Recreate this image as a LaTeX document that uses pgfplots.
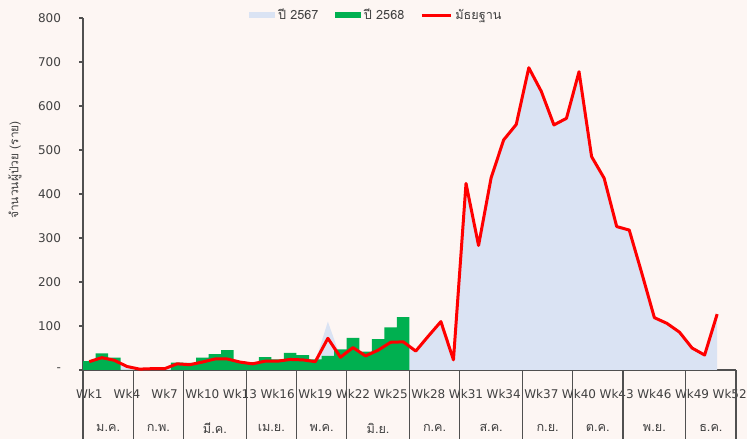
\documentclass[border=0pt]{standalone}
\usepackage{fontspec}
\setmainfont{DejaVu Sans}
\newfontfamily\thai[Script=Thai]{Loma}
\usepackage{pgfplots}
\pgfplotsset{compat=1.18}
\definecolor{bg}{RGB}{253,246,243}
\definecolor{areablue}{RGB}{218,227,243}
\definecolor{bargreen}{RGB}{0,176,80}
\definecolor{txt}{RGB}{64,64,64}
\definecolor{axc}{RGB}{80,80,80}
\begin{document}
\begin{tikzpicture}
\useasboundingbox (0,0) rectangle (560.25pt,329.25pt);
\fill[bg] (0,0) rectangle (560.25pt,329.25pt);
\begin{axis}[
  at={(62.25pt,51.75pt)}, anchor=south west,
  scale only axis, width=489.75pt, height=264pt,
  xmin=0.5, xmax=52.5, ymin=0, ymax=800,
  axis x line*=bottom, axis y line*=left,
  axis line style={axc, line width=1pt},
  clip=false,
  tick align=outside, major tick length=3pt,
  ytick={0,100,...,800},
  yticklabels={-,100,200,300,400,500,600,700,800},
  y tick label style={font=\fontsize{9}{10}\selectfont, text=txt, xshift=-10pt},
  ytick style={axc, line width=0.8pt},
  xtick={1,4,7,10,13,16,19,22,25,28,31,34,37,40,43,46,49,52},
  xticklabels={Wk1,Wk4,Wk7,Wk10,Wk13,Wk16,Wk19,Wk22,Wk25,Wk28,Wk31,Wk34,Wk37,Wk40,Wk43,Wk46,Wk49,Wk52},
  x tick label style={font=\fontsize{9}{10}\selectfont, text=txt, anchor=center, yshift=-15pt},
  xtick style={draw=none},
  extra x ticks={0.5,4.5,8.5,13.5,17.5,21.5,26.5,30.5,35.5,39.5,43.5,48.5,52.5},
  extra x tick labels={},
  extra x tick style={major tick length=54pt, xtick style={draw=axc, line width=1pt}},
  legend style={at={(0.4495,1.0085)}, anchor=center, draw=none, fill=none,
    legend columns=3, font=\thai\fontsize{9.5}{10}\selectfont, text=txt,
    /tikz/every even column/.append style={column sep=10pt}},
]
\addplot[fill=areablue, draw=none,
  legend image code/.code={\fill[areablue] (0pt,-2.6pt) rectangle (20pt,2.6pt);}]
coordinates {
(1,18) (2,28) (3,22) (4,8) (5,2) (6,3) (7,3) (8,12) (9,12) (10,17)
(11,24) (12,25) (13,17) (14,14) (15,20) (16,20) (17,24) (18,23) (19,19) (20,110)
(21,29) (22,51) (23,32) (24,45) (25,63) (26,64) (27,43) (28,77) (29,110) (30,23)
(31,424) (32,283) (33,437) (34,523) (35,558) (36,687) (37,633) (38,557) (39,572) (40,678)
(41,485) (42,436) (43,326) (44,318) (45,220) (46,119) (47,106) (48,86) (49,50) (50,34)
(51,127)
} \closedcycle;
\addlegendentry{ปี 2567}
\addplot[ybar, bar width=1, bar shift=0pt, fill=bargreen, draw=none,
  legend image code/.code={\fill[bargreen] (0pt,-2.6pt) rectangle (20pt,2.6pt);}]
coordinates {
(1,20) (2,38) (3,28) (4,0) (5,0) (6,0) (7,0) (8,17) (9,16) (10,28)
(11,36) (12,45) (13,19) (14,18) (15,29) (16,24) (17,39) (18,34) (19,24) (20,32)
(21,47) (22,73) (23,42) (24,70) (25,97) (26,120)
};
\addlegendentry{ปี 2568}
\addplot[red, line width=2.25pt, line join=round, no marks,
  legend image code/.code={\draw[red, line width=2.25pt] (0pt,0pt) -- (22pt,0pt);}]
coordinates {
(1,19) (2,28) (3,22) (4,8) (5,2) (6,3) (7,3) (8,14) (9,12) (10,18)
(11,25) (12,25) (13,18) (14,14) (15,20) (16,20) (17,24) (18,23) (19,19) (20,72)
(21,29) (22,51) (23,32) (24,45) (25,63) (26,64) (27,43) (28,77) (29,110) (30,23)
(31,424) (32,283) (33,437) (34,523) (35,558) (36,687) (37,633) (38,557) (39,572) (40,678)
(41,485) (42,436) (43,326) (44,318) (45,220) (46,119) (47,106) (48,86) (49,50) (50,34)
(51,127)
};
\addlegendentry{มัธยฐาน}
\foreach \xx/\mm in {2.5/ม.ค., 6.5/ก.พ., 11/มี.ค., 15.5/เม.ย., 19.5/พ.ค., 24/มิ.ย., 28.5/ก.ค., 33/ส.ค., 37.5/ก.ย., 41.5/ต.ค., 46/พ.ย., 50.5/ธ.ค.}{
  \edef\temp{\noexpand\node[font=\noexpand\thai\noexpand\fontsize{9.5}{10}\noexpand\selectfont, text=txt] at ([yshift=-43.5pt]axis cs:\xx,0) {\mm};}
  \temp
}
\end{axis}
\node[rotate=90, font=\thai\fontsize{9}{10}\selectfont, text=txt] at (11.25pt,201.75pt) {จำนวนผู้ป่วย (ราย)};
\end{tikzpicture}
\end{document}
